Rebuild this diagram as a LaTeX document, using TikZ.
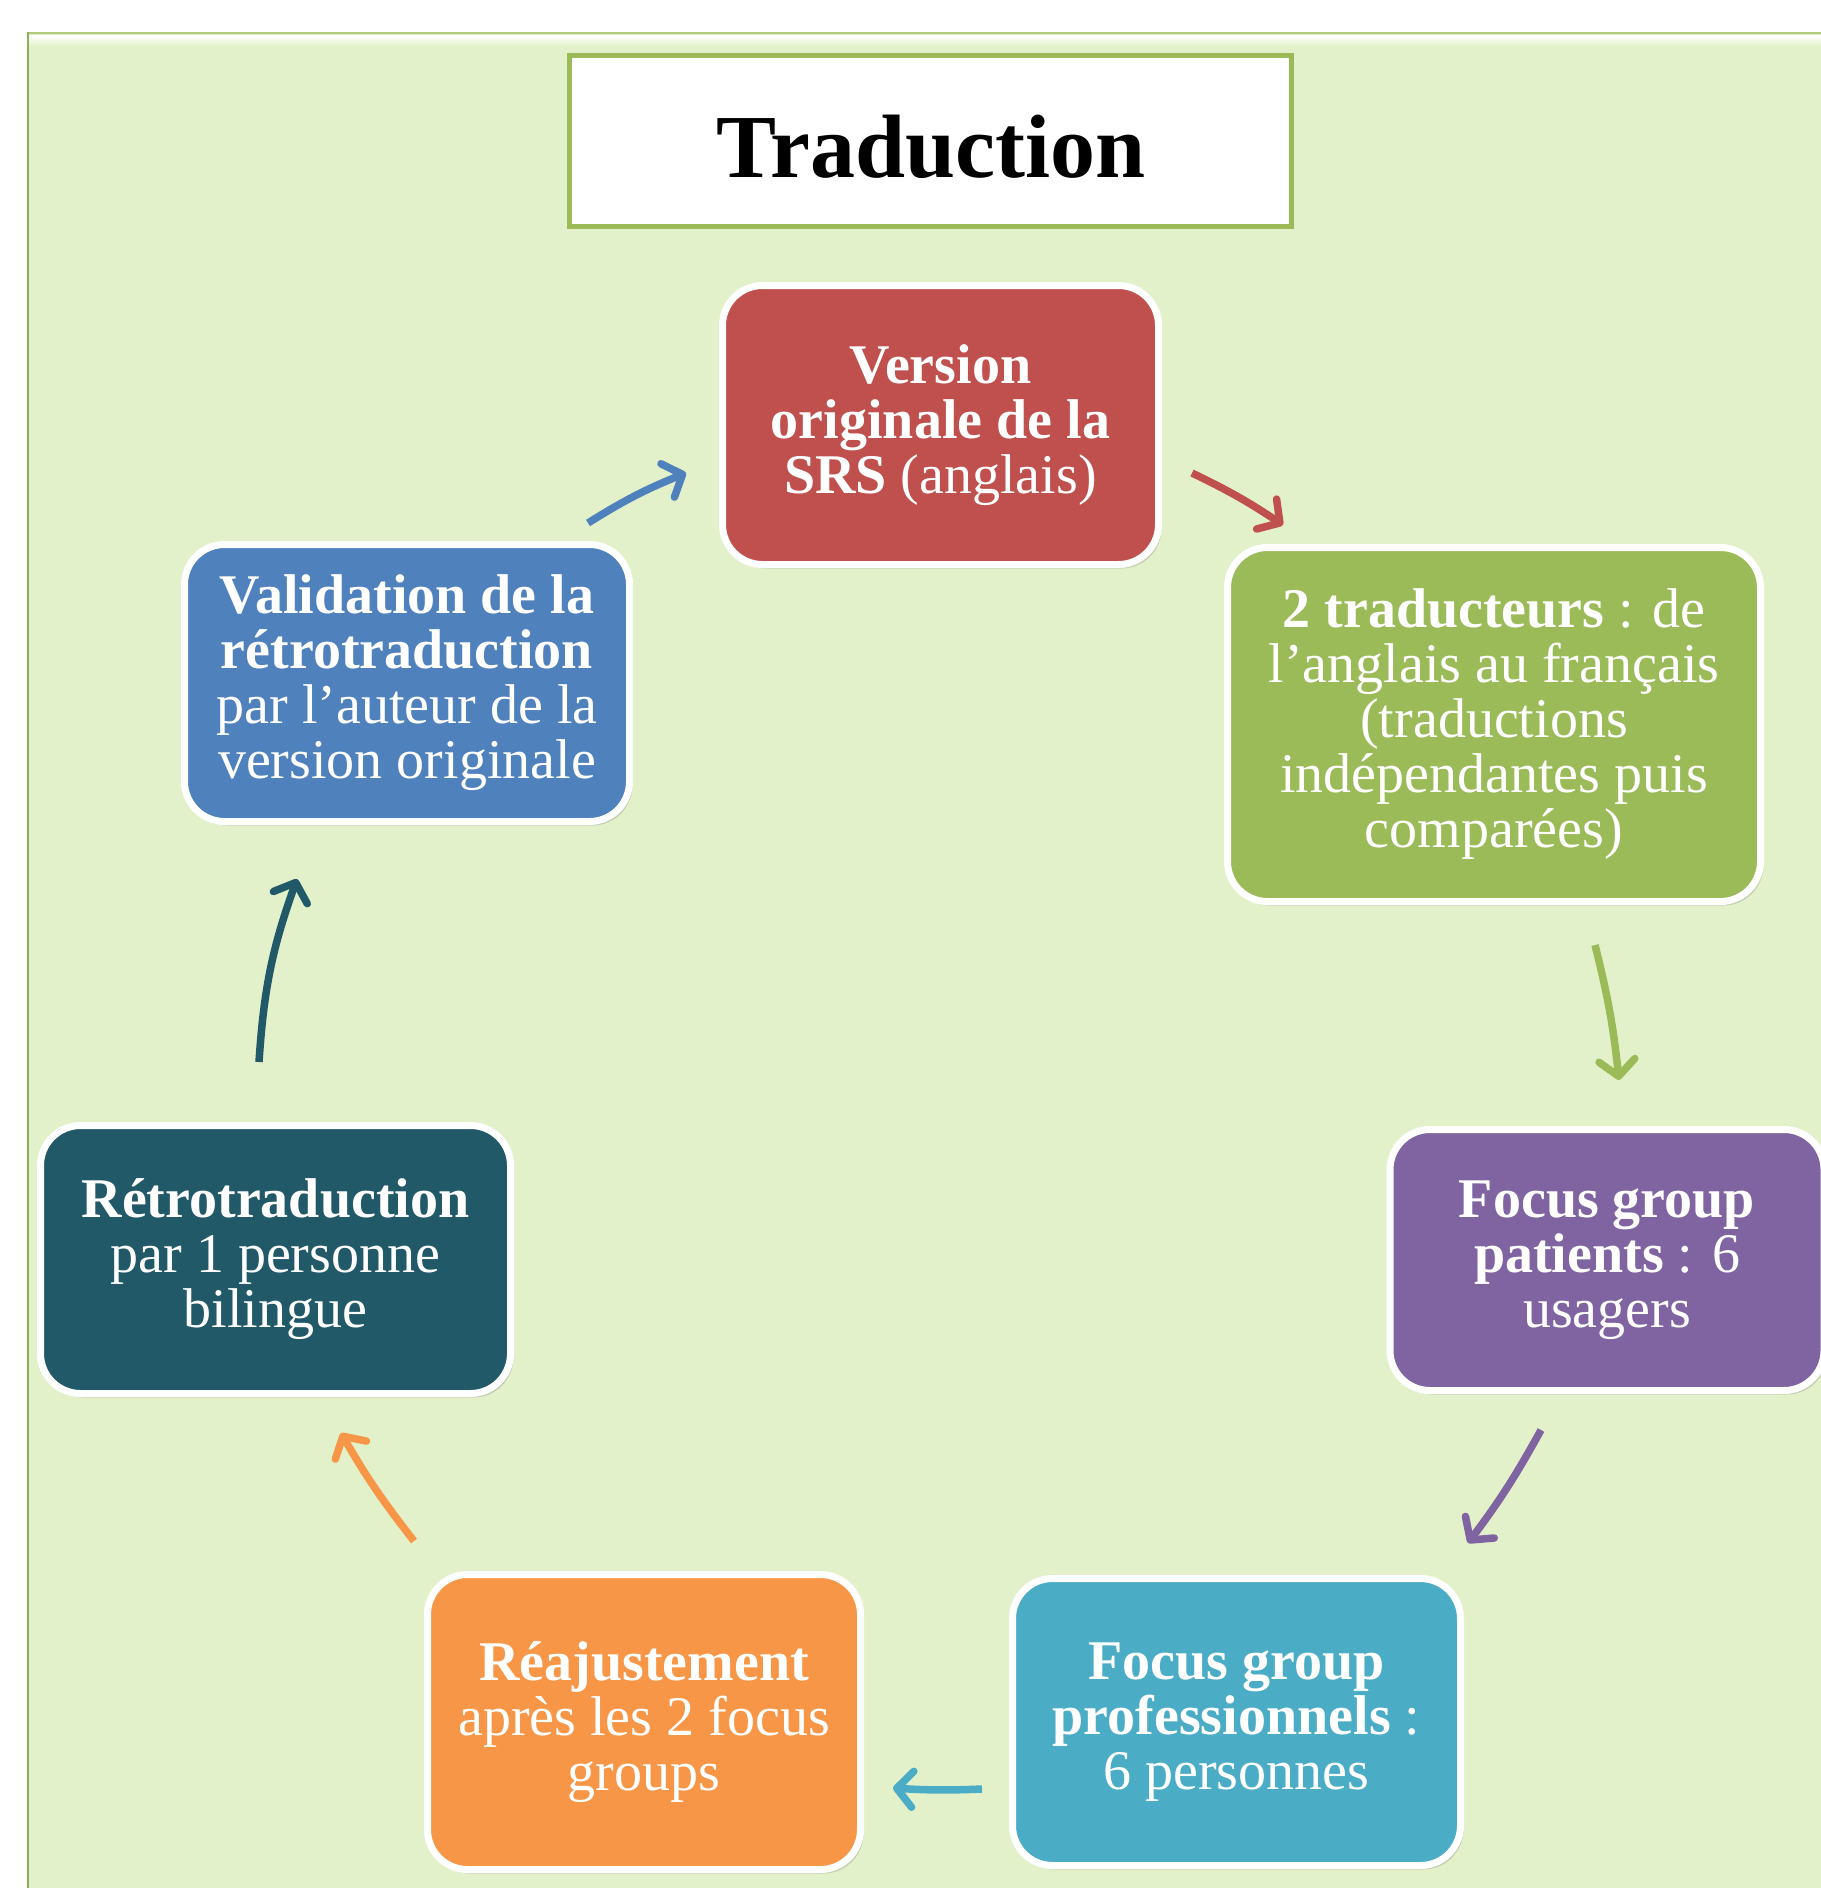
\documentclass[tikz,border=0pt]{standalone}
\usepackage{fontspec}
\setmainfont{Liberation Serif}
\usetikzlibrary{arrows.meta,shadows}
\definecolor{bgc}{HTML}{E3F1CA}
\definecolor{cred}{HTML}{C0504D}
\definecolor{cgreen}{HTML}{9BBB59}
\definecolor{cpurple}{HTML}{8064A2}
\definecolor{ccyan}{HTML}{4BACC6}
\definecolor{corange}{HTML}{F79646}
\definecolor{cteal}{HTML}{215968}
\definecolor{cblue}{HTML}{4F81BD}
\definecolor{edgegreen}{HTML}{8FAE5A}
\tikzset{
  stepbox/.style={draw=white, line width=7pt, rounded corners=40pt, inner sep=0pt,
    align=center, text=white, font=\fontsize{56}{55}\selectfont,
    drop shadow={shadow xshift=3pt, shadow yshift=-4pt, opacity=0.25, fill=black!60}},
  arr/.style={line width=7.5pt,
    -{Straight Barb[length=16pt,width=36pt,line cap=round,line join=round]}}
}
\begin{document}
\begin{tikzpicture}[x=1pt,y=-1pt]
\useasboundingbox (0,0) rectangle (1821,1888);
% background panel
\fill[bgc] (27,32) rectangle (1830,1895);
\shade[top color=white, bottom color=bgc] (29,35) rectangle (1830,46);
\draw[line width=2pt, color=cgreen!80] (27,33) -- (1830,33);
\draw[line width=2.5pt, color=edgegreen] (28,32) -- (28,1895);
% title
\node[draw=cgreen, line width=5pt, fill=white, minimum width=722pt, minimum height=171pt, inner sep=0pt] (title) at (930.5,141) {};
\node[anchor=base, font=\fontsize{90}{90}\selectfont\bfseries] (titletext) at (931,177) {Traduction};
% boxes
\node[stepbox, fill=cred, minimum width=436pt, minimum height=279pt] (red) at (940.5,425)
  {\textbf{Version}\\\textbf{originale de la}\\\textbf{SRS} (anglais)};
\node[stepbox, fill=cgreen, minimum width=533pt, minimum height=354pt] (green) at (1494,724.5)
  {\textbf{2 traducteurs} : de\\l’anglais au français\\(traductions\\indépendantes puis\\comparées)};
\node[stepbox, fill=cpurple, minimum width=434pt, minimum height=261pt] (purple) at (1607,1260)
  {\textbf{Focus group}\\\textbf{patients} : 6\\usagers};
\node[stepbox, fill=ccyan, minimum width=448pt, minimum height=287pt] (cyan) at (1236.5,1722)
  {\textbf{Focus group}\\\textbf{professionnels} :\\6 personnes};
\node[stepbox, fill=corange, minimum width=433pt, minimum height=295pt] (orange) at (644,1722)
  {\textbf{Réajustement}\\après les 2 focus\\groups};
\node[stepbox, fill=cteal, minimum width=470pt, minimum height=268pt] (teal) at (275.5,1259.5)
  {\textbf{Rétrotraduction}\\par 1 personne\\bilingue};
\node[stepbox, fill=cblue, minimum width=445pt, minimum height=277pt] (blue) at (407,683)
  {\textbf{Validation de la}\\\textbf{rétrotraduction}\\par l’auteur de la\\version originale};
% arrow end points
\coordinate (a1s) at (1192,473); \coordinate (a1e) at (1283,525);
\coordinate (a2s) at (1595,945); \coordinate (a2e) at (1619,1080);
\coordinate (a3s) at (1541,1430); \coordinate (a3e) at (1468,1543);
\coordinate (a4s) at (982,1789); \coordinate (a4e) at (893,1788);
\coordinate (a5s) at (414,1541); \coordinate (a5e) at (341,1433);
\coordinate (a6s) at (259,1062); \coordinate (a6e) at (297,879);
\coordinate (a7s) at (588,523); \coordinate (a7e) at (686,473);
\draw[arr, cred] (a1s) to[bend left=4] (a1e);
\draw[arr, cgreen] (a2s) to[bend left=4] (a2e);
\draw[arr, cpurple] (a3s) to[bend left=4] (a3e);
\draw[arr, ccyan] (a4s) to[bend left=3] (a4e);
\draw[arr, corange] (a5s) to[bend left=4] (a5e);
\draw[arr, cteal] (a6s) to[bend left=8] (a6e);
\draw[arr, cblue] (a7s) to[bend left=5] (a7e);
\end{tikzpicture}
\end{document}
